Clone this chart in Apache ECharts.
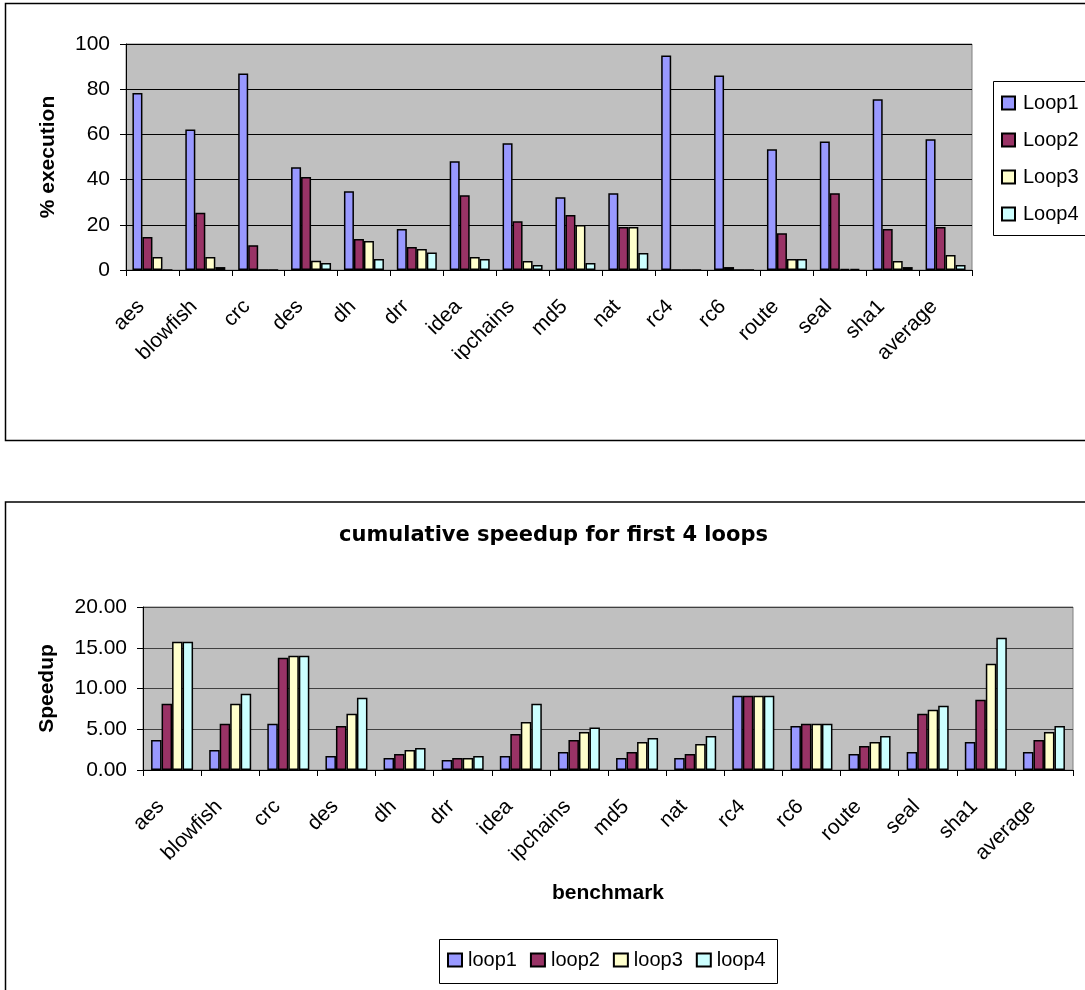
<!DOCTYPE html>
<html>
<head>
<meta charset="utf-8">
<script src="https://cdn.jsdelivr.net/npm/echarts@6/dist/echarts.min.js"></script>
<style>
html,body{margin:0;padding:0;background:#fff;}
#chart{width:1085px;height:990px;}
</style>
</head>
<body>
<div id="chart"></div>
<script>
const benchmarks = ['aes','blowfish','crc','des','dh','drr','idea','ipchains','md5','nat','rc4','rc6','route','seal','sha1','average'];

const execLoop1 = [78.3, 62.2, 87.0, 45.5, 34.9, 18.1, 48.1, 56.1, 32.2, 34.0, 94.9, 86.1, 53.4, 56.9, 75.5, 57.8];
const execLoop2 = [14.6, 25.3, 11.0, 41.1, 13.7, 10.2, 33.1, 21.6, 24.3, 19.0, 0, 1.3, 16.3, 34.0, 18.1, 19.0];
const execLoop3 = [5.7, 5.7, 0, 4.1, 12.8, 9.3, 5.7, 4.0, 19.9, 19.0, 0, 0, 4.9, 0.4, 4.0, 6.6];
const execLoop4 = [0, 1.3, 0, 3.1, 4.9, 7.7, 4.9, 2.2, 3.1, 7.5, 0, 0, 4.9, 0.4, 1.3, 2.2];

const speedLoop1 = [3.69, 2.46, 5.66, 1.72, 1.48, 1.23, 1.72, 2.21, 1.48, 1.48, 9.1, 5.41, 1.97, 2.21, 3.44, 2.21];
const speedLoop2 = [8.12, 5.66, 13.78, 5.41, 1.97, 1.48, 4.43, 3.69, 2.21, 1.97, 9.1, 5.66, 2.95, 6.89, 8.61, 3.69];
const speedLoop3 = [15.74, 8.12, 14.02, 6.89, 2.46, 1.48, 5.9, 4.67, 3.44, 3.2, 9.1, 5.66, 3.44, 7.38, 13.04, 4.67];
const speedLoop4 = [15.74, 9.35, 14.02, 8.86, 2.71, 1.72, 8.12, 5.2, 3.94, 4.18, 9.1, 5.66, 4.18, 7.87, 16.24, 5.41];

const execNames = ['Loop1','Loop2','Loop3','Loop4'];
const speedNames = ['loop1','loop2','loop3','loop4'];
const loopColors = ['#9999FF','#993366','#FFFFCC','#CCFFFF'];
const execAxisRange = [0, 100, 20];
const speedAxisRange = [0, 20, 5];

const FONT = '"Liberation Sans", Arial, sans-serif';

const execData = [execLoop1, execLoop2, execLoop3, execLoop4];
const speedData = [speedLoop1, speedLoop2, speedLoop3, speedLoop4];

const series = [];
execData.forEach((d, i) => {
  series.push({
    name: execNames[i], type: 'bar', xAxisIndex: 0, yAxisIndex: 0,
    data: d, barWidth: 10, barGap: '0%',
    itemStyle: {color: loopColors[i], borderColor: '#000', borderWidth: 1.5}
  });
});
speedData.forEach((d, i) => {
  series.push({
    name: speedNames[i], type: 'bar', xAxisIndex: 1, yAxisIndex: 1,
    data: d, barWidth: 10.5, barGap: '0%',
    itemStyle: {color: loopColors[i], borderColor: '#000', borderWidth: 1.5}
  });
});

const chart = echarts.init(document.getElementById('chart'), null, {renderer: 'canvas'});
chart.setOption({
  animation: false,
  backgroundColor: '#fff',
  title: {
    text: 'cumulative speedup for first 4 loops',
    left: 334, top: 520,
    textStyle: {fontFamily: '"DejaVu Sans", sans-serif', fontWeight: 'bold', fontSize: 21, color: '#000'}
  },
  grid: [
    {left: 126, top: 44, width: 846, height: 226, show: true, backgroundColor: '#C0C0C0', borderColor: '#808080', borderWidth: 1},
    {left: 143, top: 607, width: 930, height: 163, show: true, backgroundColor: '#C0C0C0', borderColor: '#808080', borderWidth: 1}
  ],
  legend: [
    {
      data: execNames, orient: 'vertical', left: 1001, top: 93, itemGap: 17,
      itemWidth: 13, itemHeight: 13, padding: 0, icon: 'rect',
      textStyle: {fontFamily: FONT, fontSize: 20, color: '#000', padding: [0,0,0,3]}
    },
    {
      data: speedNames, orient: 'horizontal', left: 447, top: 950, itemGap: 13,
      itemWidth: 14, itemHeight: 13, padding: 0, icon: 'rect',
      textStyle: {fontFamily: FONT, fontSize: 20, color: '#000', padding: [0,0,0,1]}
    }
  ],
  xAxis: [
    {
      type: 'category', gridIndex: 0, data: benchmarks,
      axisLine: {lineStyle: {color: '#000', width: 1}},
      axisTick: {show: true, length: 6, lineStyle: {color: '#000'}},
      axisLabel: {rotate: 45, interval: 0, margin: 22, padding: [0, 16, 0, 0], fontFamily: FONT, fontSize: 21, color: '#000'}
    },
    {
      type: 'category', gridIndex: 1, data: benchmarks,
      name: 'benchmark', nameLocation: 'middle', nameGap: 113,
      nameTextStyle: {fontFamily: FONT, fontWeight: 'bold', fontSize: 21, color: '#000'},
      axisLine: {lineStyle: {color: '#000', width: 1}},
      axisTick: {show: true, length: 6, lineStyle: {color: '#000'}},
      axisLabel: {rotate: 45, interval: 0, margin: 22, padding: [0, 16, 0, 0], fontFamily: FONT, fontSize: 21, color: '#000'}
    }
  ],
  yAxis: [
    {
      type: 'value', gridIndex: 0, min: execAxisRange[0], max: execAxisRange[1], interval: execAxisRange[2],
      name: '% execution', nameLocation: 'middle', nameRotate: 90, nameGap: 67,
      nameTextStyle: {fontFamily: FONT, fontWeight: 'bold', fontSize: 21, color: '#000'},
      axisLine: {show: true, lineStyle: {color: '#000', width: 1}},
      axisTick: {show: true, length: 6, lineStyle: {color: '#000'}},
      axisLabel: {margin: 16, fontFamily: FONT, fontSize: 21, color: '#000'},
      splitLine: {lineStyle: {color: '#000', width: 1}}
    },
    {
      type: 'value', gridIndex: 1, min: speedAxisRange[0], max: speedAxisRange[1], interval: speedAxisRange[2],
      name: 'Speedup', nameLocation: 'middle', nameRotate: 90, nameGap: 85,
      nameTextStyle: {fontFamily: FONT, fontWeight: 'bold', fontSize: 21, color: '#000'},
      axisLine: {show: true, lineStyle: {color: '#000', width: 1}},
      axisTick: {show: true, length: 6, lineStyle: {color: '#000'}},
      axisLabel: {margin: 16, fontFamily: FONT, fontSize: 21, color: '#000', formatter: v => v.toFixed(2)},
      splitLine: {lineStyle: {color: '#404040', width: 1}}
    }
  ],
  series: series,
  graphic: [
    {type: 'rect', z: 100, shape: {x: 7, y: 359, width: 975, height: 80}, style: {fill: '#fff'}},
    {type: 'rect', z: 101, shape: {x: 5.5, y: 3.5, width: 1100, height: 437}, style: {fill: null, stroke: '#000', lineWidth: 1.5}},
    {type: 'rect', z: 101, shape: {x: 5.5, y: 502, width: 1100, height: 500}, style: {fill: null, stroke: '#000', lineWidth: 1.5}},
    {type: 'rect', z: 101, shape: {x: 993.5, y: 81.5, width: 120, height: 154}, style: {fill: null, stroke: '#000', lineWidth: 1}},
    {type: 'rect', z: 101, shape: {x: 439.5, y: 939.5, width: 338, height: 44}, style: {fill: null, stroke: '#000', lineWidth: 1}}
  ]
});
</script>
</body>
</html>
